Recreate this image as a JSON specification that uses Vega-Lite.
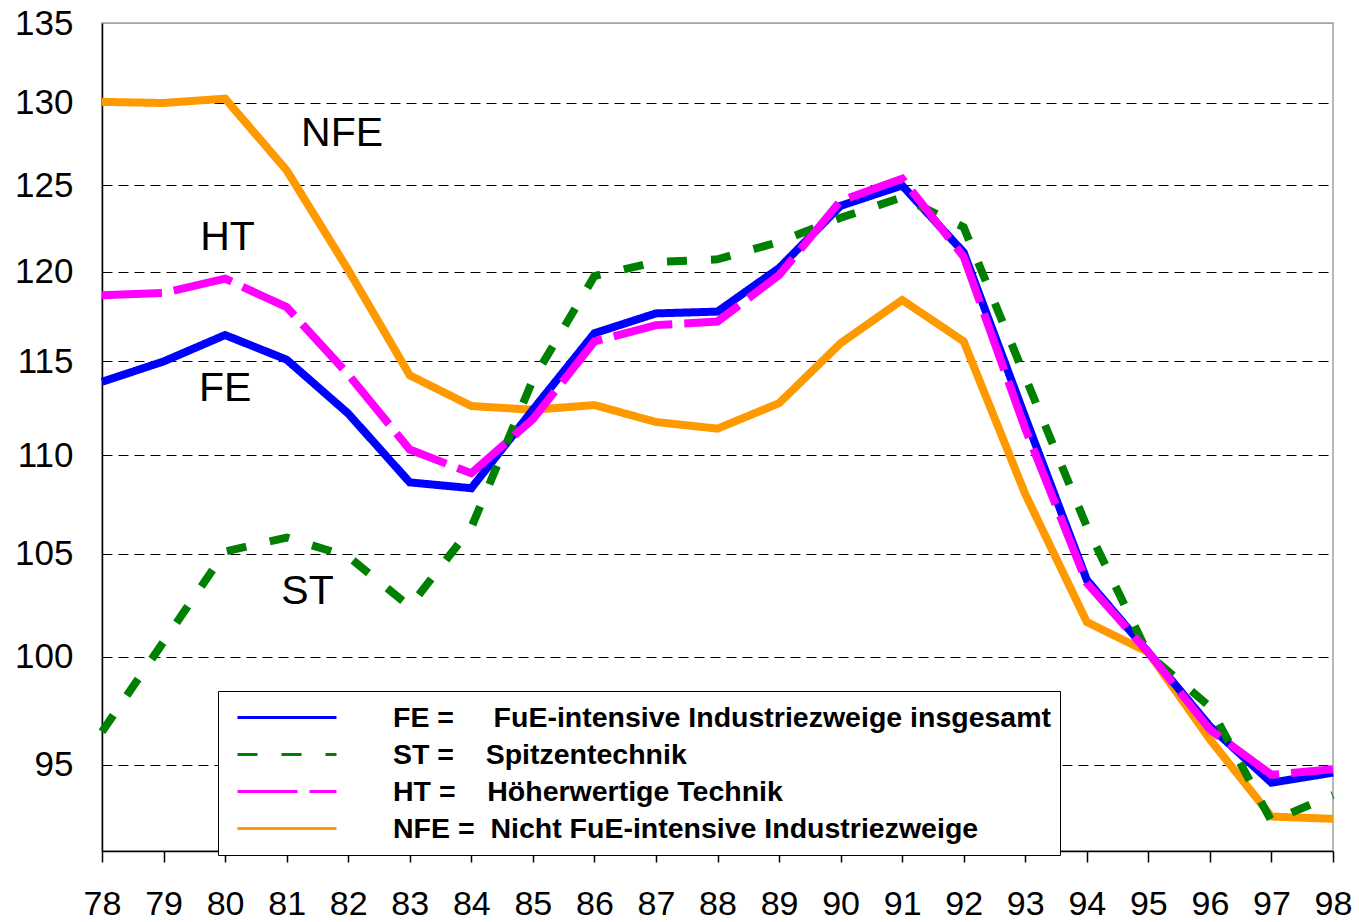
{
  "$schema": "https://vega.github.io/schema/vega-lite/v6.json",
  "width": 1231,
  "height": 828,
  "autosize": {"type": "none"},
  "padding": {"left": 102, "top": 23, "right": 26, "bottom": 71},
  "background": "white",
  "config": {
    "view": {"stroke": "#a0a0a0", "strokeWidth": 1.5},
    "font": "Liberation Sans",
    "axis": {"labelFont": "Liberation Sans"},
    "legend": {"labelFont": "Liberation Sans"}
  },
  "datasets": {
    "series": [
      {"series": "NFE", "year": 78, "value": 130.05},
      {"series": "NFE", "year": 79, "value": 129.98},
      {"series": "NFE", "year": 80, "value": 130.25},
      {"series": "NFE", "year": 81, "value": 125.9},
      {"series": "NFE", "year": 82, "value": 120.1},
      {"series": "NFE", "year": 83, "value": 114.25},
      {"series": "NFE", "year": 84, "value": 112.6},
      {"series": "NFE", "year": 85, "value": 112.4},
      {"series": "NFE", "year": 86, "value": 112.65},
      {"series": "NFE", "year": 87, "value": 111.75},
      {"series": "NFE", "year": 88, "value": 111.4},
      {"series": "NFE", "year": 89, "value": 112.75},
      {"series": "NFE", "year": 90, "value": 116.0},
      {"series": "NFE", "year": 91, "value": 118.4},
      {"series": "NFE", "year": 92, "value": 116.1},
      {"series": "NFE", "year": 93, "value": 108.0},
      {"series": "NFE", "year": 94, "value": 101.65},
      {"series": "NFE", "year": 95, "value": 100.2},
      {"series": "NFE", "year": 96, "value": 96.15},
      {"series": "NFE", "year": 97, "value": 92.7},
      {"series": "NFE", "year": 98, "value": 92.6},
      {"series": "FE", "year": 78, "value": 113.9},
      {"series": "FE", "year": 79, "value": 115.0},
      {"series": "FE", "year": 80, "value": 116.45},
      {"series": "FE", "year": 81, "value": 115.1},
      {"series": "FE", "year": 82, "value": 112.2},
      {"series": "FE", "year": 83, "value": 108.6},
      {"series": "FE", "year": 84, "value": 108.3},
      {"series": "FE", "year": 85, "value": 112.4},
      {"series": "FE", "year": 86, "value": 116.55},
      {"series": "FE", "year": 87, "value": 117.65},
      {"series": "FE", "year": 88, "value": 117.75},
      {"series": "FE", "year": 89, "value": 120.2},
      {"series": "FE", "year": 90, "value": 123.8},
      {"series": "FE", "year": 91, "value": 125.0},
      {"series": "FE", "year": 92, "value": 121.1},
      {"series": "FE", "year": 93, "value": 112.0},
      {"series": "FE", "year": 94, "value": 103.7},
      {"series": "FE", "year": 95, "value": 100.2},
      {"series": "FE", "year": 96, "value": 96.75},
      {"series": "FE", "year": 97, "value": 94.2},
      {"series": "FE", "year": 98, "value": 94.65},
      {"series": "ST", "year": 78, "value": 96.5},
      {"series": "ST", "year": 79, "value": 100.7},
      {"series": "ST", "year": 80, "value": 105.1},
      {"series": "ST", "year": 81, "value": 105.8},
      {"series": "ST", "year": 82, "value": 104.85},
      {"series": "ST", "year": 83, "value": 102.4},
      {"series": "ST", "year": 84, "value": 106.3},
      {"series": "ST", "year": 85, "value": 114.0},
      {"series": "ST", "year": 86, "value": 119.75},
      {"series": "ST", "year": 87, "value": 120.55},
      {"series": "ST", "year": 88, "value": 120.7},
      {"series": "ST", "year": 89, "value": 121.7},
      {"series": "ST", "year": 90, "value": 123.1},
      {"series": "ST", "year": 91, "value": 124.3},
      {"series": "ST", "year": 92, "value": 122.55},
      {"series": "ST", "year": 93, "value": 114.15},
      {"series": "ST", "year": 94, "value": 106.35},
      {"series": "ST", "year": 95, "value": 100.1},
      {"series": "ST", "year": 96, "value": 97.65},
      {"series": "ST", "year": 97, "value": 92.5},
      {"series": "ST", "year": 98, "value": 93.65},
      {"series": "HT", "year": 78, "value": 118.67},
      {"series": "HT", "year": 79, "value": 118.8},
      {"series": "HT", "year": 80, "value": 119.6},
      {"series": "HT", "year": 81, "value": 118.0},
      {"series": "HT", "year": 82, "value": 114.3},
      {"series": "HT", "year": 83, "value": 110.3},
      {"series": "HT", "year": 84, "value": 109.07},
      {"series": "HT", "year": 85, "value": 111.9},
      {"series": "HT", "year": 86, "value": 116.1},
      {"series": "HT", "year": 87, "value": 117.0},
      {"series": "HT", "year": 88, "value": 117.2},
      {"series": "HT", "year": 89, "value": 119.8},
      {"series": "HT", "year": 90, "value": 124.1},
      {"series": "HT", "year": 91, "value": 125.4},
      {"series": "HT", "year": 92, "value": 120.85},
      {"series": "HT", "year": 93, "value": 111.4},
      {"series": "HT", "year": 94, "value": 103.55},
      {"series": "HT", "year": 95, "value": 100.2},
      {"series": "HT", "year": 96, "value": 96.6},
      {"series": "HT", "year": 97, "value": 94.55},
      {"series": "HT", "year": 98, "value": 94.8}
    ],
    "labels": [
      {"label": "NFE", "year": 81.9, "value": 128.1},
      {"label": "HT", "year": 80.04, "value": 121.9},
      {"label": "FE", "year": 80.0, "value": 113.5},
      {"label": "ST", "year": 81.34, "value": 103.1}
    ]
  },
  "encoding": {
    "x": {
      "field": "year",
      "type": "quantitative",
      "scale": {"domain": [78, 98], "nice": false, "zero": false},
      "axis": {
        "title": null,
        "values": [78, 79, 80, 81, 82, 83, 84, 85, 86, 87, 88, 89, 90, 91, 92, 93, 94, 95, 96, 97, 98],
        "format": "d",
        "tickSize": 11,
        "tickColor": "black",
        "tickWidth": 1.5,
        "labelFontSize": 34,
        "labelBaseline": "alphabetic",
        "labelPadding": 52,
        "labelColor": "black",
        "domainColor": "black",
        "domainWidth": 1.5,
        "grid": false,
        "labelOverlap": false,
        "labelFlush": false
      }
    },
    "y": {
      "field": "value",
      "type": "quantitative",
      "scale": {"type": "log", "domain": [91.2, 135], "nice": false, "zero": false},
      "axis": {
        "title": null,
        "values": [95, 100, 105, 110, 115, 120, 125, 130, 135],
        "format": "d",
        "ticks": false,
        "tickSize": 0,
        "labelFontSize": 35,
        "labelPadding": 29,
        "labelColor": "black",
        "domainColor": "black",
        "domainWidth": 1.5,
        "grid": true,
        "gridColor": {"condition": {"test": "datum.value >= 135", "value": "#a0a0a0"}, "value": "black"},
        "gridDash": {"condition": {"test": "datum.value >= 135", "value": [1, 0]}, "value": [10, 6]},
        "gridWidth": 1,
        "labelOverlap": false,
        "labelFlush": false
      }
    }
  },
  "layer": [
    {
      "data": {"name": "series"},
      "mark": {"type": "line", "strokeWidth": 8},
      "encoding": {
        "color": {
          "field": "series",
          "type": "nominal",
          "scale": {"domain": ["FE", "ST", "HT", "NFE"], "range": ["#0000ff", "#008000", "#ff00ff", "#ff9900"]},
          "legend": {
            "title": null,
            "orient": "none",
            "legendX": 116,
            "legendY": 668,
            "direction": "vertical",
            "symbolType": "stroke",
            "symbolSize": 9800,
            "symbolStrokeWidth": 3,
            "symbolOffset": 10,
            "labelFontWeight": "bold",
            "labelFontSize": 28.5,
            "labelColor": "black",
            "labelLimit": 1000,
            "labelOffset": 55,
            "clipHeight": 37,
            "rowPadding": 0,
            "strokeColor": "black",
            "fillColor": "white",
            "padding": 8,
            "cornerRadius": 0,
            "labelExpr": "datum.value == 'FE' ? 'FE =\u00a0\u00a0\u00a0\u00a0\u00a0FuE-intensive Industriezweige insgesamt' : datum.value == 'ST' ? 'ST =\u00a0\u00a0\u00a0\u00a0Spitzentechnik' : datum.value == 'HT' ? 'HT =\u00a0\u00a0\u00a0\u00a0Höherwertige Technik' : 'NFE =\u00a0\u00a0Nicht FuE-intensive Industriezweige'"
          }
        },
        "strokeDash": {
          "field": "series",
          "type": "nominal",
          "scale": {"domain": ["FE", "ST", "HT", "NFE"], "range": [[1, 0], [20, 24], [60, 12], [1, 0]]},
          "legend": null
        }
      }
    },
    {
      "data": {"name": "labels"},
      "mark": {"type": "text", "fontSize": 41, "font": "Liberation Sans", "color": "black", "align": "center", "baseline": "middle"},
      "encoding": {
        "text": {"field": "label"}
      }
    }
  ]
}
